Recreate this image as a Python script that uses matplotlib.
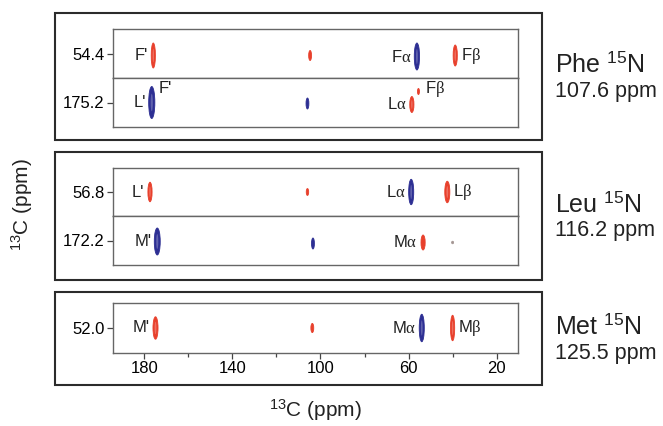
import matplotlib
matplotlib.use('Agg')
import matplotlib.pyplot as plt
from matplotlib.patches import Ellipse, Rectangle

plt.rcParams['font.family'] = ['Liberation Sans', 'DejaVu Sans']
plt.rcParams['mathtext.fontset'] = 'custom'
plt.rcParams['mathtext.rm'] = 'Liberation Serif'
plt.rcParams['mathtext.it'] = 'Liberation Serif:italic'
plt.rcParams['mathtext.sf'] = 'Liberation Sans'

# painéis (resíduo e deslocamento 15N)
residuos = ['Phe', 'Leu', 'Met']
n15_ppm = [107.6, 116.2, 125.5]

# cada faixa: painel, deslocamento 13C da faixa
faixa_painel = [0, 0, 1, 1, 2]
faixa_c13 = [54.4, 175.2, 56.8, 172.2, 52.0]

# picos por faixa: posição 13C (ppm), desvio vertical, largura (ppm), altura, cor
pico_x = [
    [175.9, 104.7, 56.2, 38.8],
    [176.6, 105.9, 58.5, 55.5],
    [177.4, 105.9, 58.8, 42.4],
    [174.1, 103.4, 53.4, 40.0],
    [174.9, 103.7, 54.0, 40.0],
]
pico_dy = [
    [-0.2, -0.2, -0.3, -0.2],
    [0.0, -0.1, -0.2, 1.1],
    [0.0, 0.0, 0.0, 0.0],
    [-0.1, -0.3, -0.2, -0.2],
    [0.0, 0.0, 0.0, 0.0],
]
pico_w = [
    [1.9, 1.3, 2.4, 1.9],
    [2.8, 1.3, 1.9, 0.9],
    [1.9, 1.1, 2.3, 2.3],
    [2.7, 1.3, 1.9, 0.9],
    [2.3, 1.3, 2.3, 1.9],
]
pico_h = [
    [2.5, 1.0, 2.7, 2.1],
    [3.2, 1.1, 1.6, 0.6],
    [2.0, 0.7, 2.6, 2.2],
    [2.7, 1.1, 1.5, 0.25],
    [2.2, 0.9, 2.7, 2.5],
]
pico_cor = [
    ['r', 'r', 'b', 'r'],
    ['b', 'b', 'r', 'r'],
    ['r', 'r', 'b', 'r'],
    ['b', 'b', 'r', 'g'],
    ['r', 'r', 'b', 'r'],
]

# rótulos: texto, índice do pico, lado (e=esquerda, d=direita, c=acima)
rotulos = [
    [("F'", 0, 'e'), (r'F$\mathrm{\alpha}$', 2, 'e'), (r'F$\mathrm{\beta}$', 3, 'd')],
    [("L'", 0, 'e'), ("F'", 0, 'c'), (r'L$\mathrm{\alpha}$', 2, 'e'), (r'F$\mathrm{\beta}$', 3, 'c')],
    [("L'", 0, 'e'), (r'L$\mathrm{\alpha}$', 2, 'e'), (r'L$\mathrm{\beta}$', 3, 'd')],
    [("M'", 0, 'e'), (r'M$\mathrm{\alpha}$', 2, 'e')],
    [("M'", 0, 'e'), (r'M$\mathrm{\alpha}$', 2, 'e'), (r'M$\mathrm{\beta}$', 3, 'd')],
]

eixo_major = [180, 140, 100, 60, 20]
eixo_minor = [160, 120, 80, 40]

cores = {'r': '#e8402c', 'b': '#2d2f93', 'g': '#a39592'}

W, H = 663, 426
fig = plt.figure(figsize=(W / 100, H / 100), dpi=100)


def caixa_px(x0, y0, x1, y1):
    return [x0 / W, 1 - y1 / H, (x1 - x0) / W, (y1 - y0) / H]


# caixas externas
paineis_px = [(55, 13, 542, 140), (55, 152, 542, 280), (55, 292, 542, 385)]
for (x0, y0, x1, y1) in paineis_px:
    fig.patches.append(Rectangle((x0 / W, 1 - y1 / H), (x1 - x0) / W, (y1 - y0) / H,
                                 transform=fig.transFigure, fill=False,
                                 edgecolor='#2b2b2b', linewidth=1.5))

linhas_px = [(29, 78), (78, 127), (168, 216), (216, 265), (303, 353)]
meia = 2.45

for i, (y0, y1) in enumerate(linhas_px):
    ax = fig.add_axes(caixa_px(113, y0, 518, y1))
    v = faixa_c13[i]
    ax.set_xlim(194.2, 10.3)
    ax.set_ylim(v - meia, v + meia)
    for s in ax.spines.values():
        s.set_color('#666666')
        s.set_linewidth(1.0)
    ax.set_yticks([v])
    ax.set_yticklabels(['%.1f' % v])
    ax.tick_params(axis='y', direction='out', length=4, width=0.9, color='#444444',
                   labelsize=12, pad=2)
    for j, x in enumerate(pico_x[i]):
        c = cores[pico_cor[i][j]]
        ax.add_patch(Ellipse((x, v + pico_dy[i][j]), pico_w[i][j], pico_h[i][j],
                             facecolor=c, edgecolor=c, linewidth=0.6))
        if pico_h[i][j] > 1.5:
            ax.add_patch(Ellipse((x, v + pico_dy[i][j]), pico_w[i][j] * 0.35,
                                 pico_h[i][j] * 0.55, facecolor='white', alpha=0.25,
                                 linewidth=0))
    for texto, j, lado in rotulos[i]:
        xy = (pico_x[i][j], v + pico_dy[i][j])
        if lado == 'e':
            ax.annotate(texto, xy, xytext=(-4, 0), textcoords='offset points',
                        ha='right', va='center', fontsize=12, color='#222222')
        elif lado == 'd':
            ax.annotate(texto, xy, xytext=(4, 0), textcoords='offset points',
                        ha='left', va='center', fontsize=12, color='#222222')
        else:
            ax.annotate(texto, (pico_x[i][j], v), xytext=(5, 10), textcoords='offset points',
                        ha='left', va='center', fontsize=12, color='#222222')
    if i == len(linhas_px) - 1:
        ax.set_xticks(eixo_major)
        ax.set_xticks(eixo_minor, minor=True)
        ax.tick_params(axis='x', which='major', direction='out', length=4, width=0.9,
                       color='#444444', labelsize=12, pad=2)
        ax.tick_params(axis='x', which='minor', direction='out', length=3, width=0.9,
                       color='#444444')
    else:
        ax.set_xticks([])

# rótulos à direita
for k, (y0p, y1p) in enumerate([(p[1], p[3]) for p in paineis_px]):
    cy = (y0p + y1p) / 2
    fig.text(555 / W, 1 - (cy - 4.5) / H, residuos[k] + r' $^{\mathsf{15}}$N',
             fontsize=18, va='baseline', ha='left', color='#222222')
    fig.text(555 / W, 1 - (cy + 20.5) / H, '%.1f ppm' % n15_ppm[k],
             fontsize=15.5, va='baseline', ha='left', color='#222222')

fig.text(22 / W, 1 - 205 / H, r'$^{\mathsf{13}}$C (ppm)', rotation=90, fontsize=15,
         ha='center', va='center', color='#222222')
fig.text(315 / W, 1 - 410 / H, r'$^{\mathsf{13}}$C (ppm)', fontsize=15,
         ha='center', va='center', color='#222222')

fig.savefig('out.png', dpi=100)
